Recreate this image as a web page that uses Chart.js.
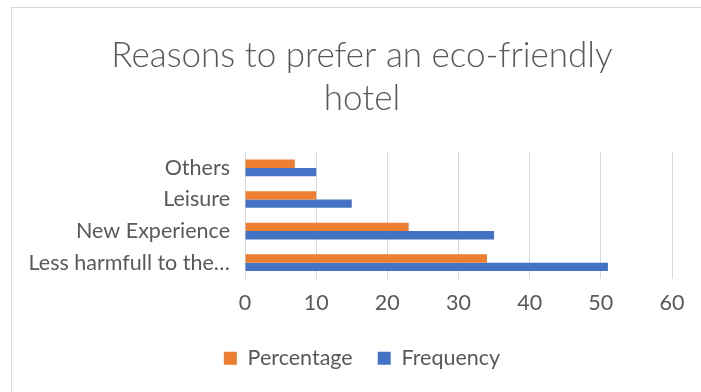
<!DOCTYPE html>
<html>
<head>
<meta charset="utf-8">
<script src="https://cdn.jsdelivr.net/npm/chart.js@4.4.1/dist/chart.umd.min.js"></script>
<style>
  html, body { margin: 0; padding: 0; background: #fff; overflow: hidden; }
  #frame {
    position: absolute; left: 11px; top: 7px;
    width: 700px; height: 390px;
    border-left: 1px solid #d9d9d9; border-top: 1px solid #d9d9d9;
    background: #fff;
  }
  #heading {
    position: absolute; left: 191px; top: -30px;
    font: italic bold 24px "Liberation Sans", sans-serif; color: #000;
  }
</style>
</head>
<body>
<div id="heading">y</div>
<div id="frame"><canvas id="chart1" width="700" height="384"></canvas></div>
<script>
const categories = ['Others', 'Leisure', 'New Experience', 'Less harmfull to the…'];
const percentage = [7, 10, 23, 34];
const frequency = [10, 15, 35, 51];
const xTicks = [0, 10, 20, 30, 40, 50, 60];

const textColor = '#595959';
const fontFamily = 'Lato, "Open Sans", sans-serif';

const ctx = document.getElementById('chart1');

new Chart(ctx, {
  type: 'bar',
  data: {
    labels: categories,
    datasets: [{
      label: 'Percentage',
      data: percentage,
      backgroundColor: '#ED7D31',
      categoryPercentage: 0.53,
      barPercentage: 1
    }, {
      label: 'Frequency',
      data: frequency,
      backgroundColor: '#4472C4',
      categoryPercentage: 0.53,
      barPercentage: 1
    }]
  },
  options: {
    indexAxis: 'y',
    responsive: false,
    animation: false,
    layout: {
      padding: { left: 0, right: 0, top: 0, bottom: 13 }
    },
    scales: {
      x: {
        min: 0,
        max: 60,
        afterBuildTicks: (scale) => {
          scale.ticks = xTicks.map(v => ({ value: v }));
        },
        afterFit: (scale) => { scale.height = 44; },
        grid: { color: '#d9d9d9', drawTicks: false },
        border: { display: false },
        ticks: {
          color: textColor,
          padding: 12,
          font: { family: fontFamily, size: 21.5 }
        }
      },
      y: {
        afterFit: (scale) => { scale.width = 233; },
        grid: { display: false },
        border: { display: false },
        ticks: {
          color: textColor,
          padding: 7,
          font: { family: fontFamily, size: 21.5 }
        }
      },
      // empty space on the right of the plot
      yRight: {
        type: 'linear',
        position: 'right',
        afterFit: (scale) => { scale.width = 40; },
        grid: { display: false },
        border: { display: false },
        ticks: { display: false }
      }
    },
    plugins: {
      title: {
        display: true,
        text: ['Reasons to prefer an eco-friendly', 'hotel'],
        color: textColor,
        font: { family: fontFamily, size: 35, weight: 300, lineHeight: 1.23 },
        padding: { top: 26, bottom: 32 }
      },
      legend: {
        position: 'bottom',
        labels: {
          color: textColor,
          boxWidth: 13,
          boxHeight: 13,
          padding: 25,
          font: { family: fontFamily, size: 21.5 }
        }
      },
      tooltip: { enabled: false }
    }
  }
});
</script>
</body>
</html>
